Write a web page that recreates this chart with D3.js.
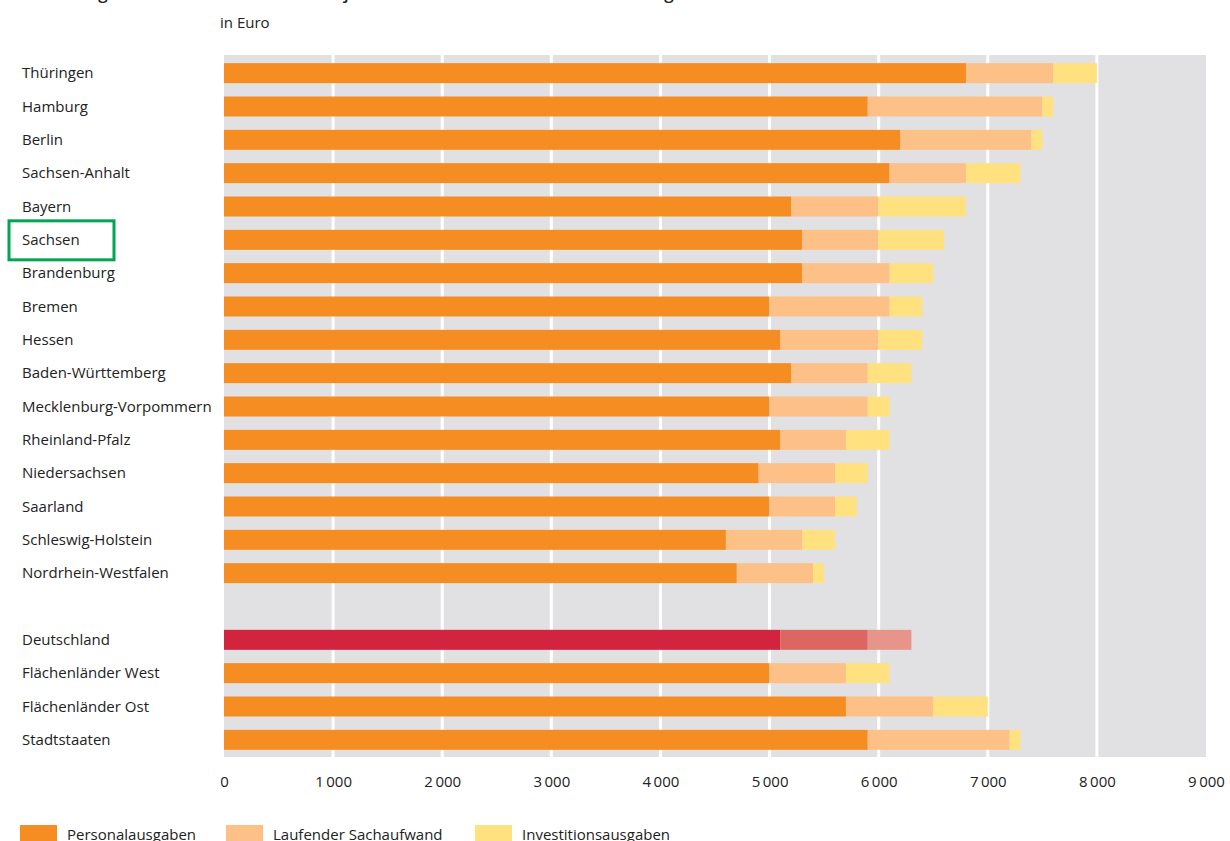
<!DOCTYPE html>
<html>
<head>
<meta charset="utf-8">
<script src="https://cdn.jsdelivr.net/npm/d3@7"></script>
<style>
  body { margin: 0; background: #fff; }
  svg text { font-family: "Open Sans", "Noto Sans", sans-serif; fill: #222; }
</style>
</head>
<body>
<div id="chart"></div>
<script>
// --- Data (Euro je Schüler/in) ---
const laender = [
  "Thüringen", "Hamburg", "Berlin", "Sachsen-Anhalt", "Bayern", "Sachsen",
  "Brandenburg", "Bremen", "Hessen", "Baden-Württemberg",
  "Mecklenburg-Vorpommern", "Rheinland-Pfalz", "Niedersachsen", "Saarland",
  "Schleswig-Holstein", "Nordrhein-Westfalen", "",
  "Deutschland", "Flächenländer West", "Flächenländer Ost", "Stadtstaaten"
];
const personal = [6800, 5900, 6200, 6100, 5200, 5300, 5300, 5000, 5100, 5200,
  5000, 5100, 4900, 5000, 4600, 4700, null, 5100, 5000, 5700, 5900];
const sachaufwand = [800, 1600, 1200, 700, 800, 700, 800, 1100, 900, 700,
  900, 600, 700, 600, 700, 700, null, 800, 700, 800, 1300];
const investition = [400, 100, 100, 500, 800, 600, 400, 300, 400, 400,
  200, 400, 300, 200, 300, 100, null, 400, 400, 500, 100];
const seriesNames = ["Personalausgaben", "Laufender Sachaufwand", "Investitionsausgaben"];
const xTicks = [0, 1000, 2000, 3000, 4000, 5000, 6000, 7000, 8000, 9000];

const colors = ["#f68d23", "#fdc087", "#ffe180"];
const colorsDE = ["#d2233f", "#dc6762", "#e7958a"];

const width = 1230, height = 841;
const margin = { top: 56.5, right: 24, bottom: 84.5, left: 224 };

const svg = d3.select("#chart").append("svg")
  .attr("width", width).attr("height", height);

const rows = laender.map((name, i) => ({
  name, i, values: [personal[i], sachaufwand[i], investition[i]]
}));

const x = d3.scaleLinear().domain([0, 9000]).range([margin.left, width - margin.right]);
const y = d3.scaleBand().domain(d3.range(laender.length))
  .range([margin.top, height - margin.bottom]).paddingInner(0.4).paddingOuter(0.2);

// title (top line cut off in the original)
svg.append("text").attr("x", 68).attr("y", -1)
  .style("font-size", "17px").style("font-weight", "600")
  .text("Ausgaben für öffentliche Schulen je Schülerin und Schüler 2020 nach Ausgabearten und Ländern");
svg.append("text").attr("x", 220).attr("y", 28)
  .style("font-size", "15px").text("in Euro");

// grey plot background
svg.append("rect")
  .attr("x", x(0)).attr("y", margin.top - 1.5)
  .attr("width", x(9000) - x(0)).attr("height", height - margin.bottom - margin.top + 2)
  .attr("fill", "#e1e1e3");

// gridlines
svg.append("g").selectAll("line")
  .data(xTicks.filter(t => t > 0 && t < 9000))
  .join("line")
  .attr("x1", d => x(d)).attr("x2", d => x(d))
  .attr("y1", margin.top - 1.5).attr("y2", height - margin.bottom + 0.5)
  .attr("stroke", "#fff").attr("stroke-width", 3);

// stacked bars
const bars = svg.append("g");
rows.filter(r => r.name).forEach(r => {
  let acc = 0;
  const pal = r.name === "Deutschland" ? colorsDE : colors;
  r.values.forEach((v, k) => {
    bars.append("rect")
      .attr("x", x(acc)).attr("y", y(r.i))
      .attr("width", x(acc + v) - x(acc)).attr("height", y.bandwidth())
      .attr("fill", pal[k]);
    acc += v;
  });
});

// category labels
svg.append("g").selectAll("text")
  .data(rows.filter(r => r.name))
  .join("text")
  .attr("x", 22).attr("y", d => y(d.i) + y.bandwidth() / 2)
  .attr("dy", "0.35em")
  .style("font-size", "15px")
  .style("font-weight", "500")
  .text(d => d.name);

// highlight box around Sachsen
svg.append("rect")
  .attr("x", 9).attr("y", y(5) + y.bandwidth() / 2 - 19)
  .attr("width", 105).attr("height", 39)
  .attr("fill", "none").attr("stroke", "#00a651").attr("stroke-width", 3);

// x axis labels
const fmt = d => d3.format(",")(d).replace(/,/g, "\u2009");
const xAxis = svg.append("g")
  .attr("transform", `translate(0, ${height - margin.bottom + 14})`)
  .call(d3.axisBottom(x).tickValues(xTicks).tickFormat(fmt).tickSize(0).tickPadding(6));
xAxis.select(".domain").remove();
xAxis.selectAll("text").style("font-size", "15px").attr("fill", "#222")
  .style("font-family", "'Open Sans', sans-serif");

// legend
const legendX = [20, 226, 475];
const leg = svg.append("g").selectAll("g")
  .data(seriesNames).join("g")
  .attr("transform", (d, i) => `translate(${legendX[i]}, 825)`);
leg.append("rect").attr("width", 37).attr("height", 20).attr("fill", (d, i) => colors[i]);
leg.append("text").attr("x", 47).attr("y", 15).style("font-size", "15px").text(d => d);
</script>
</body>
</html>
